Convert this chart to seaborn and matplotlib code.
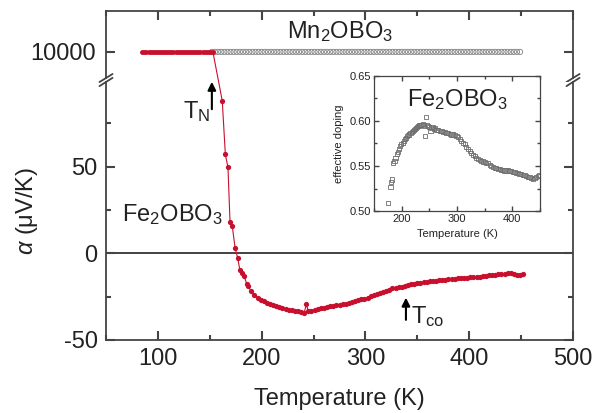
import numpy as np
import pandas as pd
import seaborn as sns
import matplotlib.pyplot as plt
from matplotlib.patches import ConnectionPatch
from matplotlib.ticker import MultipleLocator

# %% data
# Fe2OBO3 above the break (off-scale, drawn at the 10000 level)
fe_top_T = [85, 87, 89, 91, 93, 95, 97, 99, 101, 103, 105, 107, 109, 111, 113, 115, 117,
            119, 121, 123, 125, 127, 129, 131, 133, 135, 137, 139, 141, 143, 145, 147, 149,
            151, 153]
fe_top_a = [10000] * len(fe_top_T)

# Mn2OBO3 (off-scale, drawn at the 10000 level)
mn_T = [152, 155, 158, 161, 164, 167, 170, 173, 176, 179, 182, 185, 188, 191, 194, 197,
        200, 203, 206, 209, 212, 215, 218, 221, 224, 227, 230, 233, 236, 239, 242, 245,
        248, 251, 254, 257, 260, 263, 266, 269, 272, 275, 278, 281, 284, 287, 290, 293,
        296, 299, 302, 305, 308, 311, 314, 317, 320, 323, 326, 329, 332, 335, 338, 341,
        344, 347, 350, 353, 356, 359, 362, 365, 368, 371, 374, 377, 380, 383, 386, 389,
        392, 395, 398, 401, 404, 407, 410, 413, 416, 419, 422, 425, 428, 431, 434, 437,
        440, 443, 446, 449]
mn_a = [10000] * len(mn_T)

# Fe2OBO3 thermopower
fe_T = [162, 165, 167.5, 169.5, 171.7, 174.4, 177, 179, 181.5, 183, 185.5, 187, 190, 193,
        196, 199, 202, 205, 208, 211, 214, 217, 220, 223, 226, 229, 232, 235, 238, 241,
        243, 245, 248, 251, 254, 257, 260, 263, 266, 269, 272, 275, 278, 281, 284, 287,
        290, 293, 296, 299, 302, 305, 308, 311, 314, 317, 320, 323, 326, 329, 332, 335,
        338, 341, 344, 347, 350, 353, 356, 359, 362, 365, 368, 371, 374, 377, 380, 383,
        386, 389, 392, 395, 398, 401, 404, 407, 410, 413, 416, 419, 422, 425, 428, 431,
        434, 437, 440, 443, 446, 449, 452]
fe_a = [88, 57, 49.6, 18, 15.5, 3, -3, -9.8, -11.5, -13, -17.5, -19, -22, -24,
        -25.5, -27, -27.8, -28.5, -29.3, -30, -30.5, -31, -31.8, -32, -32.5, -32.8, -33.2, -33, -33.8, -34.2,
        -29.5, -33.5, -33, -32.5, -32.2, -31.6, -31.8, -31, -30.6, -30.5, -30, -29.8, -29.2, -29, -28.6, -28.2,
        -27.5, -27.2, -26.6, -26.2, -25.6, -24.8, -24.2, -23.5, -23, -22.3, -21.5, -21, -20.3, -20, -19.5, -19.2,
        -18.6, -18.2, -17.9, -17.5, -17.2, -16.9, -16.6, -16.4, -16.1, -15.9, -15.7, -15.5, -15.4, -15.2, -15, -15,
        -14.7, -14.5, -14.4, -14.2, -14, -13.8, -13.7, -13.5, -13.4, -13.2, -13, -12.8, -12.6, -12.4, -12.2, -12,
        -11.8, -11.5, -11.4, -12, -12.3, -12.4, -12.1]

# inset: effective doping
dop_T = [176, 180, 181, 183, 185, 187, 189, 191, 193, 195, 197, 199, 202, 204, 206, 208,
         210, 212, 214, 216, 218, 220, 222, 224, 226, 228, 230, 232, 234, 236, 238, 240,
         242, 244, 246, 248, 250, 252, 254, 256, 258, 260, 263, 266, 269, 272, 275, 278,
         281, 284, 287, 290, 293, 296, 299, 302, 305, 308, 311, 314, 317, 320, 323, 326,
         329, 332, 335, 338, 341, 344, 347, 350, 353, 356, 359, 362, 365, 368, 371, 374,
         377, 380, 383, 386, 389, 392, 395, 398, 401, 404, 407, 410, 413, 416, 419, 422,
         425, 428, 431, 434, 437, 440, 443, 446, 449]
dop = [0.509, 0.527, 0.532, 0.535, 0.553, 0.556, 0.559, 0.563, 0.566, 0.569, 0.572, 0.574, 0.576, 0.578, 0.580, 0.581,
       0.583, 0.584, 0.585, 0.587, 0.588, 0.589, 0.590, 0.591, 0.592, 0.593, 0.594, 0.595, 0.596, 0.596, 0.597, 0.595,
       0.583, 0.604, 0.596, 0.594, 0.593, 0.589, 0.592, 0.593, 0.591, 0.592, 0.590, 0.590, 0.589, 0.589, 0.588, 0.588,
       0.587, 0.587, 0.586, 0.585, 0.585, 0.584, 0.583, 0.582, 0.580, 0.578, 0.576, 0.574, 0.571, 0.569, 0.567, 0.564,
       0.562, 0.561, 0.559, 0.558, 0.557, 0.556, 0.555, 0.554, 0.553, 0.553, 0.551, 0.550, 0.549, 0.548, 0.548, 0.547,
       0.547, 0.546, 0.546, 0.545, 0.545, 0.545, 0.544, 0.544, 0.543, 0.543, 0.542, 0.542, 0.541, 0.541, 0.540, 0.540,
       0.539, 0.538, 0.538, 0.537, 0.536, 0.537, 0.538, 0.539, 0.540]

# %% style
red = '#c8102e'
grey = '#808080'
spc = '#444444'
txt = '#222222'

sns.set_theme(style="ticks", rc={
    'xtick.direction': 'in', 'ytick.direction': 'in',
    'axes.unicode_minus': False,
    'axes.axisbelow': False,
})
plt.rcParams['font.family'] = ['Liberation Sans', 'DejaVu Sans']
plt.rcParams['mathtext.fontset'] = 'custom'
plt.rcParams['mathtext.rm'] = 'Liberation Sans'
plt.rcParams['mathtext.it'] = 'Liberation Sans:italic'
plt.rcParams['mathtext.default'] = 'regular'

fig = plt.figure(figsize=(6.03, 4.13), dpi=100)
ax_top = fig.add_axes([0.1758, 0.8111, 0.7745, 0.1623])
ax = fig.add_axes([0.1758, 0.1768, 0.7745, 0.6247])

for a in (ax_top, ax):
    for s in a.spines.values():
        s.set_color(spc)
        s.set_linewidth(1.3)
    a.set_xlim(50, 500)
    a.xaxis.set_major_locator(MultipleLocator(100))
    a.xaxis.set_minor_locator(MultipleLocator(50))

# %% upper panel
ax_top.spines['bottom'].set_visible(False)
ax_top.set_ylim(9992.2, 10012.2)
ax_top.set_yticks([10000])
ax_top.set_yticklabels(['10000'])
sns.scatterplot(x=mn_T, y=mn_a, ax=ax_top, marker='o', s=14, facecolor='none',
                edgecolor=grey, linewidth=0.6, zorder=2)
sns.lineplot(x=fe_top_T, y=fe_top_a, ax=ax_top, color=red, lw=0.8, marker='o',
             markersize=3.5, markeredgewidth=0, sort=False, zorder=3)
ax_top.set_xlabel('')
ax_top.set_ylabel('')
ax_top.tick_params(which='both', direction='in', colors=spc, labelcolor=txt, width=1.5,
                   labelsize=17, bottom=False, top=True, left=True, right=True,
                   labelbottom=False, pad=7)
ax_top.tick_params(which='major', length=6.5)
ax_top.tick_params(which='minor', length=3.5)
ax_top.text(0.5, 0.6, 'Mn$_2$OBO$_3$', transform=ax_top.transAxes, ha='center',
            va='baseline', fontsize=17, color=txt)

# %% lower panel
ax.spines['top'].set_visible(False)
ax.set_ylim(-50, 98.8)
ax.yaxis.set_major_locator(MultipleLocator(50))
ax.yaxis.set_minor_locator(MultipleLocator(25))
ax.axhline(0, color='#111111', lw=1.1, zorder=1)
sns.lineplot(x=fe_T, y=fe_a, ax=ax, color=red, lw=0.8, marker='o', markersize=3.8,
             markeredgewidth=0, sort=False, zorder=3)
ax.tick_params(which='both', direction='in', colors=spc, labelcolor=txt, width=1.5,
               labelsize=17, bottom=True, top=False, left=True, right=True, pad=6)
ax.tick_params(which='major', length=6.5)
ax.tick_params(which='minor', length=3.5)
ax.set_xlabel('Temperature (K)', fontsize=17, color=txt, labelpad=13)
ax.set_ylabel(r'$\mathit{\alpha}$ (μV/K)', fontsize=17, color=txt)
ax.yaxis.set_label_coords(-0.141, 0.5)

# red line crossing the break
con = ConnectionPatch(xyA=(fe_top_T[-1], fe_top_a[-1]), coordsA=ax_top.transData,
                      xyB=(fe_T[0], fe_a[0]), coordsB=ax.transData, color=red, lw=0.8)
fig.add_artist(con)

# break marks
dx = 0.014
kw = dict(color=spc, lw=1.3, clip_on=False)
for x0 in (0, 1):
    ax_top.plot([x0 - dx, x0 + dx], [-0.06, 0.06], transform=ax_top.transAxes, **kw)
    ax.plot([x0 - dx, x0 + dx], [1 - 0.016, 1 + 0.016], transform=ax.transAxes, **kw)

# annotations
ax.text(150, 78, 'T$_N$', fontsize=17, ha='right', va='baseline', color=txt)
ax.annotate('', xy=(152, 100.5), xytext=(152, 81.5), annotation_clip=False,
            arrowprops=dict(arrowstyle='-|>', color='black', lw=1.5, mutation_scale=12))
ax.text(344, -40.5, 'T$_{co}$', fontsize=17, ha='left', va='baseline', color=txt)
ax.annotate('', xy=(339, -24), xytext=(339, -40), annotation_clip=False,
            arrowprops=dict(arrowstyle='-|>', color='black', lw=1.5, mutation_scale=12))
ax.text(65, 18.5, 'Fe$_2$OBO$_3$', fontsize=17, ha='left', va='baseline', color=txt)

# %% inset
ins = fig.add_axes([0.6202, 0.4891, 0.2753, 0.3269])
for s in ins.spines.values():
    s.set_color(spc)
    s.set_linewidth(0.9)
sns.scatterplot(x=dop_T, y=dop, ax=ins, marker='s', s=9, facecolor='none',
                edgecolor='#6e6e6e', linewidth=0.6)
ins.set_xlim(150, 450)
ins.set_ylim(0.50, 0.65)
ins.xaxis.set_major_locator(MultipleLocator(100))
ins.xaxis.set_minor_locator(MultipleLocator(50))
ins.yaxis.set_major_locator(MultipleLocator(0.05))
ins.yaxis.set_minor_locator(MultipleLocator(0.025))
ins.yaxis.set_major_formatter(plt.FormatStrFormatter('%.2f'))
ins.tick_params(which='both', direction='in', colors=spc, width=1.0, labelsize=8,
                labelcolor=txt, bottom=True, left=True, top=True, right=True, pad=2)
ins.tick_params(which='major', length=3.5)
ins.tick_params(which='minor', length=2)
ins.set_xlabel('Temperature (K)', fontsize=8, color=txt, labelpad=4)
ins.set_ylabel('effective doping', fontsize=8, color=txt, labelpad=4)
ins.text(0.5, 0.78, 'Fe$_2$OBO$_3$', transform=ins.transAxes, ha='center',
         va='baseline', fontsize=17, color=txt)

fig.savefig('out.png', dpi=100)
